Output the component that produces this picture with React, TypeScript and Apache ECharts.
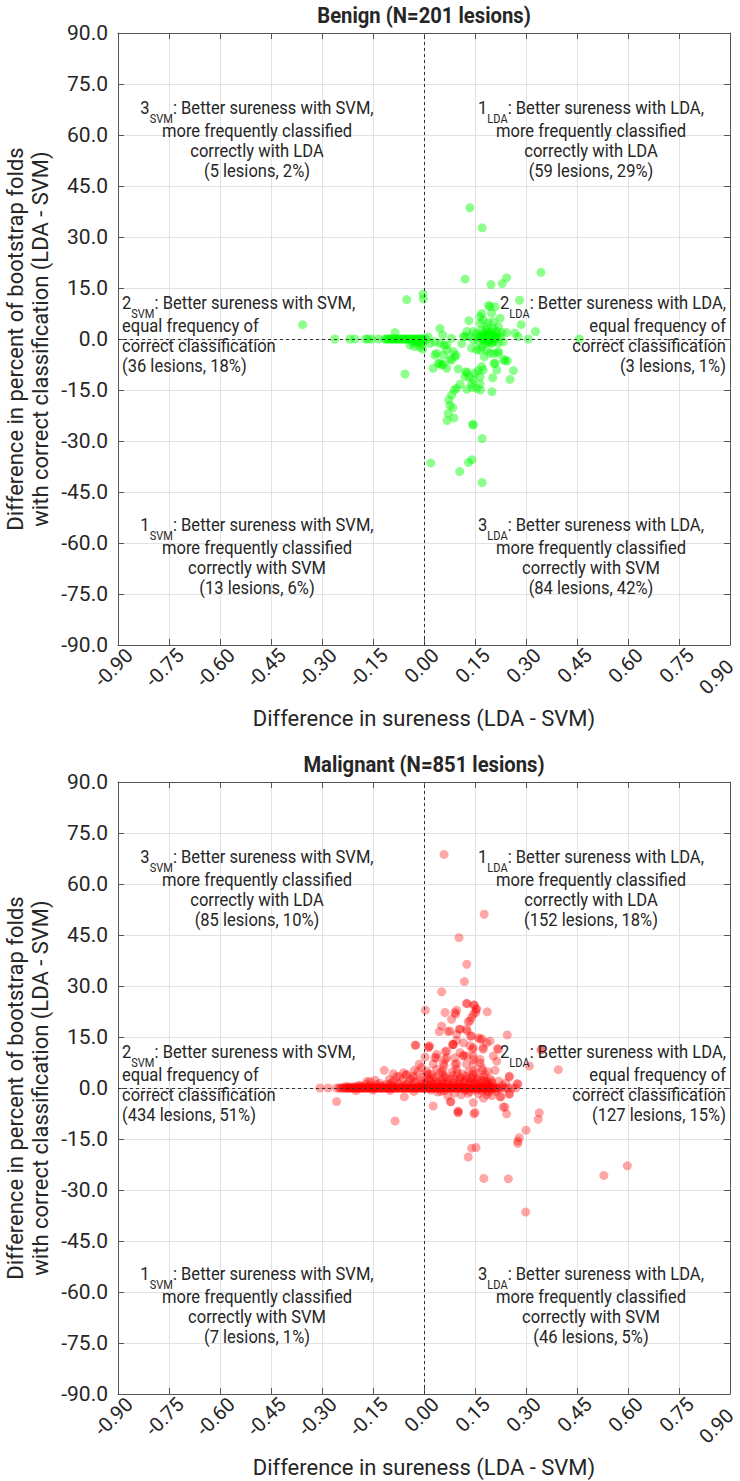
import React, { useEffect, useRef } from "react";
import * as echarts from "echarts";

// ---------- axis ranges / ticks ----------
const X_MIN = -0.9;
const X_MAX = 0.9;
const X_STEP = 0.15;
const Y_MIN = -90;
const Y_MAX = 90;
const Y_STEP = 15;

// ---------- texts ----------
const chartTitles = ["Benign (N=201 lesions)", "Malignant (N=851 lesions)"];
const xAxisTitle = "Difference in sureness (LDA - SVM)";
const yAxisTitle = ["Difference in percent of bootstrap folds", "with correct classification (LDA - SVM)"];

const noteNums = ["3", "1", "2", "2", "1", "3"];
const noteSubs = ["SVM", "LDA", "SVM", "LDA", "SVM", "LDA"];
const noteHeads = [
  "Better sureness with SVM,",
  "Better sureness with LDA,",
  "Better sureness with SVM,",
  "Better sureness with LDA,",
  "Better sureness with SVM,",
  "Better sureness with LDA,",
];
const noteLines = [
  ["more frequently classified", "correctly with LDA"],
  ["more frequently classified", "correctly with LDA"],
  ["equal frequency of", "correct classification"],
  ["equal frequency of", "correct classification"],
  ["more frequently classified", "correctly with SVM"],
  ["more frequently classified", "correctly with SVM"],
];
const benignCounts = ["(5 lesions, 2%)", "(59 lesions, 29%)", "(36 lesions, 18%)", "(3 lesions, 1%)", "(13 lesions, 6%)", "(84 lesions, 42%)"];
const malignantCounts = ["(85 lesions, 10%)", "(152 lesions, 18%)", "(434 lesions, 51%)", "(127 lesions, 15%)", "(7 lesions, 1%)", "(46 lesions, 5%)"];

// ---------- benign data ----------
const benignLeftUp = [[-0.357, 4.2], [-0.051, 11.6], [-0.003, 13.2], [-0.002, 11.8], [-0.085, 1.9]];
const benignLeftZeroX = [
  -0.262, -0.218, -0.203, -0.172, -0.165, -0.154, -0.134, -0.115, -0.11, -0.106, -0.102, -0.098,
  -0.094, -0.09, -0.086, -0.082, -0.078, -0.074, -0.07, -0.066, -0.062, -0.058, -0.054, -0.05,
  -0.046, -0.042, -0.038, -0.034, -0.03, -0.026, -0.022, -0.018, -0.014, -0.01, -0.006, -0.002,
];
const benignLeftDown = [
  [-0.056, -10.3], [-0.041, -1.8], [-0.03, -0.6], [-0.022, -1.2], [-0.015, -0.5], [-0.012, -2.4],
  [-0.008, -0.8], [-0.005, -1.5], [-0.004, -3.0], [-0.028, -2.2], [-0.018, -0.9], [-0.035, -0.7], [-0.002, -0.5],
];
const benignRightZeroX = [0.005, 0.307, 0.457];
const benignRightUp = [
  [0.135, 38.6], [0.171, 32.7], [0.344, 19.6], [0.121, 17.6], [0.243, 18.0], [0.23, 16.3], [0.197, 16.0],
  [0.281, 11.4], [0.19, 9.9], [0.17, 7.5], [0.286, 4.2], [0.328, 2.2], [0.132, 5.4], [0.165, 4.6],
  [0.174, 5.6], [0.189, 4.8], [0.204, 5.1], [0.219, 3.6], [0.229, 1.9], [0.145, 2.2], [0.155, 1.7],
  [0.17, 2.6], [0.179, 1.2], [0.199, 2.2], [0.214, 2.2], [0.224, 0.7], [0.243, 1.9], [0.268, 1.7],
  [0.277, 0.7], [0.126, 2.2], [0.116, 0.7], [0.194, 9.5], [0.209, 9.5], [0.165, 6.6], [0.199, 7.6],
  [0.224, 6.1], [0.047, 3.1], [0.055, 1.2], [0.121, 0.7], [0.135, 0.7], [0.081, 0.2], [0.16, 0.5],
  [0.165, 1.0], [0.172, 0.5], [0.178, 0.3], [0.183, 0.8], [0.187, 0.4], [0.19, 1.5], [0.193, 0.6],
  [0.196, 0.3], [0.2, 1.0], [0.203, 0.5], [0.207, 0.3], [0.21, 0.8], [0.215, 0.4], [0.182, 2.8],
  [0.186, 3.5], [0.205, 3.0], [0.012, 0.6], [0.168, 0.4], [0.181, 0.2], [0.188, 1.1], [0.194, 0.9],
  [0.201, 0.6], [0.212, 1.2], [0.176, 1.6], [0.192, 2.0], [0.185, 0.1],
];
const benignRightDown = [
  [0.02, -36.5], [0.105, -39], [0.131, -36.3], [0.141, -35.5], [0.171, -42.2], [0.171, -29.3],
  [0.143, -25.1], [0.145, -25.3], [0.068, -24.0], [0.088, -23.2], [0.071, -21.9], [0.076, -19.5],
  [0.085, -20.2], [0.073, -17.9], [0.081, -16.5], [0.089, -15.0], [0.096, -14.5], [0.106, -13.3],
  [0.126, -14.8], [0.142, -14.2], [0.155, -14.5], [0.166, -15.0], [0.2, -15.5], [0.018, -1.3],
  [0.032, -0.8], [0.059, -1.8], [0.067, -3.2], [0.037, -4.2], [0.047, -7.1], [0.027, -8.6],
  [0.057, -7.6], [0.067, -8.6], [0.086, -3.7], [0.091, -5.2], [0.081, -6.2], [0.101, -8.8],
  [0.111, -1.3], [0.145, -0.3], [0.155, -3.2], [0.17, -2.3], [0.177, -5.2], [0.184, -3.2],
  [0.204, -4.2], [0.219, -3.7], [0.235, -6.0], [0.245, -6.4], [0.263, -9.3], [0.253, -11.9],
  [0.214, -9.1], [0.202, -11.4], [0.174, -9.1], [0.165, -11.1], [0.15, -10.1], [0.133, -11.1],
  [0.127, -9.9], [0.14, -13.0], [0.209, -7.1], [0.16, -0.8], [0.179, -1.3], [0.199, -1.3],
  [0.219, -1.1], [0.233, -0.8], [0.124, -9.6], [0.159, -9.3], [0.17, -8.1], [0.206, -7.2],
  [0.238, -6.4], [0.165, -13.2], [0.145, -11.9], [0.12, -11.1], [0.052, -7.6], [0.042, -7.2],
  [0.032, -4.7], [0.057, -4.7], [0.076, -6.0], [0.094, -4.7], [0.047, -1.3], [0.067, -1.8],
  [0.14, -2.7], [0.165, -3.2], [0.194, -4.2], [0.218, -4.2], [0.185, -0.5], [0.19, -0.8],
  [0.175, -0.4], [0.184, -0.3], [0.191, -0.5], [0.197, -0.2], [0.206, -0.6], [0.2, -1.0],
];

// ---------- malignant data ----------
const malLeftUp = [
  [-0.026, 12.6], [-0.024, 12.6], [-0.117, 5.2], [-0.168, 1.9], [-0.102, 2.5], [-0.08, 3.4],
  [-0.053, 3.8], [-0.031, 3.0], [-0.007, 6.0], [-0.017, 4.8], [-0.159, 1.9], [-0.144, 2.3],
  [-0.073, 3.3], [-0.051, 4.0], [-0.031, 3.5], [-0.014, 7.0], [-0.051, 1.1], [-0.09, 2.0],
  [-0.11, 1.1], [-0.129, 0.6], [-0.188, 0.6], [-0.208, 0.3], [-0.169, 1.1], [-0.2, 0.5],
  [-0.19, 0.8], [-0.18, 0.4], [-0.16, 0.7], [-0.15, 0.5], [-0.14, 1.0], [-0.13, 1.4],
  [-0.12, 0.6], [-0.1, 0.9], [-0.095, 1.5], [-0.085, 0.7], [-0.075, 1.2], [-0.065, 2.2],
  [-0.06, 0.8], [-0.045, 1.6], [-0.04, 2.6], [-0.035, 0.9], [-0.025, 1.8], [-0.02, 0.6],
  [-0.012, 2.3], [-0.008, 1.2], [-0.004, 3.2], [-0.06, 4.5], [-0.09, 4.2], [-0.004, 0.5],
  [-0.028, 5.2], [-0.22, 0.4], [-0.23, 0.5],
];
const malLeftZeroX = [
  -0.306, -0.282, -0.257, -0.249, -0.245, -0.241, -0.237, -0.233, -0.229, -0.226, -0.223, -0.22,
  -0.217, -0.214, -0.211, -0.208, -0.205, -0.202, -0.199, -0.196, -0.193, -0.19, -0.187, -0.184,
  -0.181, -0.178, -0.175, -0.172, -0.169, -0.166, -0.163, -0.16, -0.157, -0.154, -0.151, -0.148,
  -0.145, -0.142, -0.139, -0.136, -0.133, -0.13, -0.127, -0.124, -0.121, -0.118, -0.115, -0.112,
  -0.109, -0.106, -0.103, -0.1, -0.097, -0.094, -0.091, -0.088, -0.085, -0.082, -0.079, -0.076,
  -0.073, -0.07, -0.067, -0.064, -0.061, -0.058, -0.055, -0.052, -0.049, -0.046, -0.043, -0.04,
  -0.037, -0.034, -0.031, -0.028, -0.025, -0.022, -0.019, -0.016, -0.013, -0.01, -0.007, -0.004, -0.001,
];
const malLeftDown = [[-0.257, -4.0], [-0.085, -9.7], [-0.058, -2.6], [-0.2, -0.8], [-0.15, -0.6], [-0.1, -0.7], [-0.03, -1.0]];
const malRightZeroX = [
  0.002, 0.005, 0.008, 0.011, 0.014, 0.017, 0.02, 0.023, 0.026, 0.029, 0.032, 0.035, 0.038, 0.041,
  0.044, 0.047, 0.05, 0.053, 0.056, 0.059, 0.062, 0.065, 0.068, 0.071, 0.074, 0.077, 0.08, 0.083,
  0.086, 0.089, 0.092, 0.095, 0.098, 0.101, 0.104, 0.107, 0.11, 0.113, 0.116, 0.119, 0.122, 0.125,
  0.128, 0.131, 0.134, 0.137, 0.14, 0.143, 0.146, 0.149, 0.152, 0.155, 0.158, 0.161, 0.164, 0.167,
  0.17, 0.173, 0.176, 0.179, 0.182, 0.185, 0.188, 0.191, 0.194, 0.197, 0.2, 0.204, 0.209, 0.215,
  0.222, 0.23, 0.238, 0.247, 0.258, 0.27,
];
const malRightUp = [
  [0.059, 68.7], [0.177, 51.1], [0.103, 44.2], [0.126, 36.4], [0.119, 31.3], [0.052, 28.3],
  [0.004, 22.9], [0.062, 22.2], [0.091, 22.2], [0.096, 22.9], [0.125, 24.9], [0.148, 24.4],
  [0.153, 23.1], [0.145, 21.7], [0.186, 22.4], [0.135, 19.7], [0.125, 17.3], [0.052, 18.2],
  [0.081, 20.2], [0.076, 16.8], [0.096, 15.8], [0.104, 17.3], [0.045, 16.6], [0.245, 15.6],
  [0.015, 12.1], [0.062, 10.7], [0.086, 12.8], [0.116, 13.3], [0.14, 15.3], [0.165, 14.3],
  [0.174, 11.4], [0.143, 11.4], [0.145, 9.4], [0.116, 9.4], [0.091, 8.9], [0.067, 8.9],
  [0.059, 6.5], [0.096, 5.5], [0.125, 7.0], [0.145, 7.0], [0.165, 8.4], [0.17, 6.0],
  [0.145, 5.0], [0.179, 4.0], [0.214, 7.9], [0.251, 3.2], [0.276, 1.1], [0.346, 11.4],
  [0.395, 5.4], [0.31, 6.5], [0.003, 9.1], [0.032, 8.9], [0.013, 11.9], [0.008, 3.8],
  [0.037, 5.5], [0.027, 3.0], [0.274, 1.3], [0.251, 3.5], [0.209, 5.2], [0.219, 11.4],
  [0.174, 11.9], [0.135, 12.4], [0.116, 9.6], [0.091, 6.9], [0.062, 8.4], [0.037, 9.9],
  [0.057, 4.0], [0.145, 4.0], [0.127, 24.8], [0.147, 24.4], [0.155, 23.3], [0.152, 22.2],
  [0.14, 20.7], [0.13, 19.5], [0.071, 16.6], [0.106, 17.3], [0.127, 16.8], [0.137, 15.3],
  [0.16, 14.8], [0.17, 14.5], [0.184, 13.3], [0.096, 14.0], [0.084, 12.8], [0.145, 11.9],
  [0.216, 11.6], [0.093, 21.7], [0.344, 11.2], [0.008, 5.0], [0.023, 4.0], [0.055, 5.0],
  [0.057, 7.2], [0.096, 7.2], [0.086, 12.8], [0.126, 9.4], [0.145, 8.4], [0.165, 7.4],
  [0.204, 9.4], [0.194, 13.8], [0.067, 10.9], [0.037, 8.9], [0.106, 10.4], [0.027, 7.0],
  [0.003, 1.1], [0.016, 12.4], [0.01, 0.8], [0.02, 1.5], [0.03, 0.6], [0.04, 2.0], [0.05, 1.0],
  [0.06, 0.5], [0.07, 1.8], [0.08, 0.9], [0.09, 2.5], [0.1, 1.2], [0.11, 0.6], [0.12, 2.2],
  [0.13, 1.0], [0.14, 0.7], [0.15, 1.6], [0.16, 0.8], [0.17, 2.4], [0.18, 1.1], [0.19, 0.6],
  [0.2, 1.4], [0.015, 2.6], [0.035, 3.2], [0.065, 2.9], [0.085, 3.6], [0.105, 2.7], [0.125, 3.4],
  [0.155, 2.9], [0.175, 3.3], [0.195, 2.6], [0.045, 0.4], [0.075, 0.4], [0.115, 0.3], [0.135, 1.9],
  [0.165, 0.4], [0.185, 2.0], [0.012, 4.2], [0.048, 4.6], [0.098, 4.4], [0.132, 4.8], [0.22, 2.0],
  [0.23, 0.8], [0.24, 1.5], [0.025, 0.3], [0.055, 1.5], [0.095, 0.5], [0.145, 2.5], [0.205, 0.5], [0.06, 3.3],
  [0.005, 1.8], [0.018, 2.1], [0.028, 1.2], [0.042, 1.4], [0.052, 2.4], [0.068, 1.1], [0.078, 2.6],
  [0.088, 1.3], [0.103, 1.9], [0.108, 3.2], [0.118, 1.5], [0.128, 2.6], [0.138, 3.0], [0.148, 1.2],
  [0.158, 2.2], [0.168, 1.5], [0.178, 2.0], [0.188, 1.3], [0.198, 2.1], [0.113, 4.1], [0.153, 4.5],
  [0.172, 5.2], [0.188, 4.8], [0.083, 4.7],
];
const malRightDown = [
  [0.027, -5.3], [0.078, -4.1], [0.1, -7.3], [0.147, -7.6], [0.145, -4.3], [0.224, -2.6],
  [0.233, -5.6], [0.243, -7.6], [0.276, -15.6], [0.28, -14.6], [0.339, -7.3], [0.336, -9.2],
  [0.3, -12.4], [0.14, -17.7], [0.153, -17.5], [0.17, -0.7], [0.184, -0.9], [0.214, -0.4],
  [0.251, -1.9], [0.13, -20.3], [0.176, -26.6], [0.248, -26.7], [0.299, -36.5], [0.529, -25.7],
  [0.598, -22.9], [0.1, -6.8], [0.079, -4.0], [0.238, -5.6], [0.226, -2.6], [0.251, -1.6],
  [0.15, -7.2], [0.04, -1.2], [0.06, -0.8], [0.09, -1.5], [0.12, -0.7], [0.16, -1.8],
  [0.19, -1.2], [0.2, -2.2], [0.11, -2.0], [0.02, -0.6], [0.135, -1.0], [0.155, -0.6],
  [0.276, -16.3], [0.07, -2.3], [0.175, -3.0], [0.101, -7.0], [0.05, -1.0], [0.13, -1.6],
  [0.185, -2.0], [0.21, -1.0],
];

const benignPoints = [
  ...benignLeftZeroX.map((x) => [x, 0]),
  ...benignRightZeroX.map((x) => [x, 0]),
  ...benignLeftUp, ...benignLeftDown, ...benignRightUp, ...benignRightDown,
];
const malignantPoints = [
  ...malLeftZeroX.map((x) => [x, 0]),
  ...malRightZeroX.map((x) => [x, 0]),
  ...malLeftUp, ...malLeftDown, ...malRightUp, ...malRightDown,
];

// ---------- layout / style ----------
const GRID_LEFT = 118;
const GRID_SIZE = 612;
const GRID_TOPS = [33, 782];
const POINT_COLORS = ["#00ff00", "#ff0000"];
const POINT_OPACITY = [0.45, 0.35];
const TEXT_COLOR = "#262626";
const AXIS_COLOR = "#555555";
const FONT = "Roboto";
// first-line centre of each note in the top chart
const NOTE_POS = [
  { x: 257, y: 110, align: "center" },
  { x: 591, y: 110, align: "center" },
  { x: 122, y: 305, align: "left" },
  { x: 726, y: 305, align: "right" },
  { x: 257, y: 527, align: "center" },
  { x: 591, y: 527, align: "center" },
];

function fmt(v: number, d: number) {
  const r = Math.round(v * 1000) / 1000;
  return (Object.is(r, -0) ? 0 : r).toFixed(d);
}

function buildOption() {
  const grids: any[] = [];
  const xAxes: any[] = [];
  const yAxes: any[] = [];
  const series: any[] = [];
  const graphics: any[] = [];
  const datasets = [benignPoints, malignantPoints];
  const counts = [benignCounts, malignantCounts];

  for (let c = 0; c < 2; c++) {
    const top = GRID_TOPS[c];
    const oy = top - GRID_TOPS[0];
    grids.push({
      left: GRID_LEFT, top, width: GRID_SIZE, height: GRID_SIZE, show: false,
      containLabel: false, outerBoundsMode: "none",
    });
    const tick = { show: true, inside: true, length: 6, lineStyle: { color: AXIS_COLOR } };
    const line = { show: true, onZero: false, lineStyle: { color: AXIS_COLOR, width: 1 } };
    xAxes.push({
      gridIndex: c, type: "value", position: "bottom", min: X_MIN, max: X_MAX, interval: X_STEP,
      axisLine: line, axisTick: tick,
      axisLabel: {
        rotate: 45, fontSize: 20, fontFamily: FONT, color: TEXT_COLOR, margin: 4,
        verticalAlign: "top", padding: [0, -6, 0, 0],
        formatter: (v: number) => {
          const s = fmt(v, 2);
          return Math.abs(v - X_MAX) < 1e-9 ? `{e|${s}}` : s;
        },
        rich: {
          e: { fontSize: 20, fontFamily: FONT, color: TEXT_COLOR, padding: [0, 16, 0, 0] },
        },
      },
      splitLine: { show: true, lineStyle: { color: "#e2e2e2", width: 1 } },
    });
    xAxes.push({
      gridIndex: c, type: "value", position: "top", min: X_MIN, max: X_MAX, interval: X_STEP,
      axisLine: line, axisTick: tick, axisLabel: { show: false }, splitLine: { show: false },
    });
    yAxes.push({
      gridIndex: c, type: "value", position: "left", min: Y_MIN, max: Y_MAX, interval: Y_STEP,
      axisLine: line, axisTick: tick,
      axisLabel: { fontSize: 21, fontFamily: FONT, color: TEXT_COLOR, margin: 10, formatter: (v: number) => fmt(v, 1) },
      splitLine: { show: true, lineStyle: { color: "#e2e2e2", width: 1 } },
    });
    yAxes.push({
      gridIndex: c, type: "value", position: "right", min: Y_MIN, max: Y_MAX, interval: Y_STEP,
      axisLine: line, axisTick: tick, axisLabel: { show: false }, splitLine: { show: false },
    });

    series.push({
      type: "line", xAxisIndex: 2 * c, yAxisIndex: 2 * c, data: [], silent: true,
      markLine: {
        silent: true, symbol: "none", label: { show: false },
        lineStyle: { color: "#333333", type: [3, 3], width: 1 },
        data: [{ xAxis: 0 }, { yAxis: 0 }],
      },
    });
    series.push({
      type: "scatter", xAxisIndex: 2 * c, yAxisIndex: 2 * c, data: datasets[c], symbolSize: 9,
      itemStyle: { color: POINT_COLORS[c], opacity: POINT_OPACITY[c] },
    });

    graphics.push({
      type: "text", x: 424, y: 15 + oy, scaleX: 0.92,
      style: { text: chartTitles[c], fontSize: 22, fontWeight: "bold", fontFamily: FONT, fill: TEXT_COLOR, align: "center", verticalAlign: "middle" },
    });
    graphics.push({
      type: "text", x: 424, y: 718 + oy,
      style: { text: xAxisTitle, fontSize: 22, fontFamily: FONT, fill: TEXT_COLOR, align: "center", verticalAlign: "middle" },
    });
    graphics.push({
      type: "text", x: 28, y: 339 + oy, rotation: Math.PI / 2,
      style: { text: yAxisTitle.join("\n"), fontSize: 22, lineHeight: 25, fontFamily: FONT, fill: TEXT_COLOR, align: "center", verticalAlign: "middle" },
    });

    for (let i = 0; i < 6; i++) {
      const p = NOTE_POS[i];
      const text =
        `{n|${noteNums[i]}}{s|${noteSubs[i]}}{n|: ${noteHeads[i]}}\n` +
        [...noteLines[i], counts[c][i]].join("\n");
      graphics.push({
        type: "text", x: p.x, y: p.y - 11 + oy, scaleX: 0.92, z: 10,
        style: {
          text, fontSize: 18, lineHeight: 20, fontFamily: FONT, fill: TEXT_COLOR,
          align: p.align, verticalAlign: "top",
          rich: {
            n: { fontSize: 18, lineHeight: 22, verticalAlign: "top", fontFamily: FONT, fill: TEXT_COLOR },
            s: { fontSize: 12, lineHeight: 12, verticalAlign: "top", padding: [14, 0, 0, 0], fontFamily: FONT, fill: TEXT_COLOR },
          },
        },
      });
    }
  }

  return {
    animation: false,
    backgroundColor: "#ffffff",
    grid: grids,
    xAxis: xAxes,
    yAxis: yAxes,
    series,
    graphic: graphics,
  };
}

export default function App() {
  const ref = useRef<HTMLDivElement>(null);
  useEffect(() => {
    if (!ref.current) return;
    const chart = echarts.init(ref.current, undefined, { renderer: "svg" });
    chart.setOption(buildOption() as any);
    return () => chart.dispose();
  }, []);
  return <div ref={ref} style={{ position: "absolute", left: 0, top: 0, width: 740, height: 1481 }} />;
}
